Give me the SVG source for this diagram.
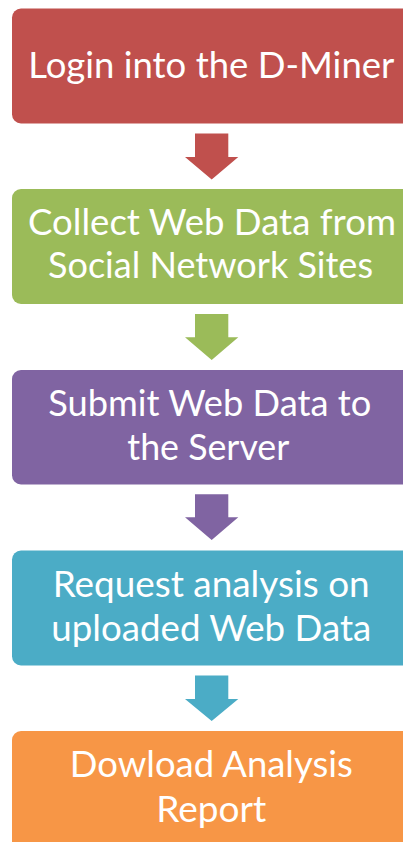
<svg xmlns="http://www.w3.org/2000/svg" width="403" height="842" viewBox="0 0 403 842">
<style>
.box{stroke:none}
.t{font-family:Lato,"Open Sans","Liberation Sans",sans-serif;font-size:37px;fill:#FFFFFF;text-anchor:middle}
.red{fill:#C0504D}.green{fill:#9BBB59}.purple{fill:#8064A2}.teal{fill:#4BACC6}.orange{fill:#F79646}
</style>
<rect width="403" height="842" fill="#FFFFFF"/>
<g id="node-login">
<rect class="box red" x="12" y="8.5" width="399" height="115" rx="9"/>
<text class="t" x="211.3" y="77.7" textLength="366" lengthAdjust="spacingAndGlyphs">Login into the D-Miner</text>
</g>
<g id="node-collect">
<rect class="box green" x="12" y="189" width="399" height="115" rx="9"/>
<text class="t" x="212" y="235" textLength="368" lengthAdjust="spacingAndGlyphs">Collect Web Data from</text>
<text class="t" x="210.5" y="278.3" textLength="325" lengthAdjust="spacingAndGlyphs">Social Network Sites</text>
</g>
<g id="node-submit">
<rect class="box purple" x="12" y="370" width="399" height="114.5" rx="9"/>
<text class="t" x="209.7" y="416" textLength="323" lengthAdjust="spacingAndGlyphs">Submit Web Data to</text>
<text class="t" x="208.3" y="460" textLength="162" lengthAdjust="spacingAndGlyphs">the Server</text>
</g>
<g id="node-request">
<rect class="box teal" x="12" y="550.5" width="399" height="115" rx="9"/>
<text class="t" x="211.2" y="596.7" textLength="317" lengthAdjust="spacingAndGlyphs">Request analysis on</text>
<text class="t" x="211.3" y="640.7" textLength="320" lengthAdjust="spacingAndGlyphs">uploaded Web Data</text>
</g>
<g id="node-download">
<rect class="box orange" x="12" y="731" width="399" height="130" rx="9"/>
<text class="t" x="211.3" y="776.7" textLength="283" lengthAdjust="spacingAndGlyphs">Dowload Analysis</text>
<text class="t" x="211.2" y="821.7" textLength="110" lengthAdjust="spacingAndGlyphs">Report</text>
</g>
<g id="connectors">
<path class="red" d="M195,133.5 H228.3 V157 H238.3 L211.7,179.5 L185,157 H195 Z"/>
<path class="green" d="M195,314 H228.3 V337.3 H238.3 L211.7,360 L185,337.3 H195 Z"/>
<path class="purple" d="M195,494.3 H228.3 V517.3 H238.3 L211.7,540 L185,517.3 H195 Z"/>
<path class="teal" d="M195,675.5 H228.3 V699 H238.3 L211.7,721 L185,699 H195 Z"/>
</g>
</svg>
